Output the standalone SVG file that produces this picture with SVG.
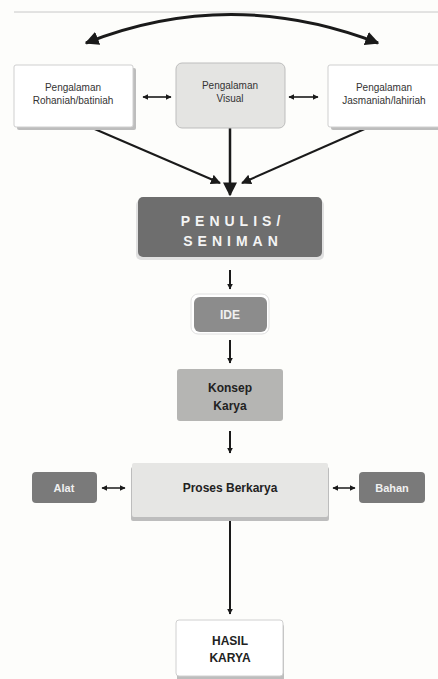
<svg xmlns="http://www.w3.org/2000/svg" width="438" height="679" viewBox="0 0 438 679">
<defs>
<marker id="ah" viewBox="0 0 10 10" refX="9" refY="5" markerWidth="10" markerHeight="10" markerUnits="userSpaceOnUse" orient="auto-start-reverse"><path d="M0,0 L10,5 L0,10 z" fill="#1a1a1a"/></marker>
<marker id="ahs" viewBox="0 0 10 10" refX="9" refY="5" markerWidth="6" markerHeight="6" markerUnits="userSpaceOnUse" orient="auto-start-reverse"><path d="M0,0 L10,5 L0,10 z" fill="#1a1a1a"/></marker>
<marker id="ahb" viewBox="0 0 10 10" refX="9" refY="5" markerWidth="14" markerHeight="14" markerUnits="userSpaceOnUse" orient="auto-start-reverse"><path d="M0,0 L10,5 L0,10 z" fill="#1a1a1a"/></marker>
</defs>
<style>
.t{font-family:"Liberation Sans",Arial,sans-serif;text-anchor:middle}
.s{font-size:10px;fill:#333}
.b{font-weight:bold}
.c{stroke:#1a1a1a;fill:none}
.sh{fill:#bdbdbd}
</style>
<rect width="438" height="679" fill="#fdfdfb"/>
<line x1="14" y1="12" x2="438" y2="12" stroke="#c8c8c8" stroke-width="1"/>
<g id="connectors">
<path class="c" d="M86,43 Q230,-14 378,43" stroke-width="3" marker-start="url(#ahb)" marker-end="url(#ahb)"/>
<line class="c" x1="143" y1="97" x2="171" y2="97" stroke-width="1.6" marker-start="url(#ahs)" marker-end="url(#ahs)"/>
<line class="c" x1="289" y1="97" x2="318" y2="97" stroke-width="1.6" marker-start="url(#ahs)" marker-end="url(#ahs)"/>
<line class="c" x1="83" y1="124" x2="220" y2="183" stroke-width="2" marker-end="url(#ah)"/>
<line class="c" x1="230" y1="124" x2="230" y2="195" stroke-width="2.5" marker-end="url(#ahb)"/>
<line class="c" x1="376" y1="124" x2="242" y2="183" stroke-width="2" marker-end="url(#ah)"/>
<line class="c" x1="230" y1="270" x2="230" y2="289" stroke-width="2" marker-end="url(#ahs)"/>
<line class="c" x1="230" y1="340" x2="230" y2="363" stroke-width="2" marker-end="url(#ahs)"/>
<line class="c" x1="230" y1="431" x2="230" y2="453" stroke-width="2" marker-end="url(#ahs)"/>
<line class="c" x1="102" y1="488" x2="125" y2="488" stroke-width="1.5" marker-start="url(#ahs)" marker-end="url(#ahs)"/>
<line class="c" x1="333" y1="488" x2="355" y2="488" stroke-width="1.5" marker-start="url(#ahs)" marker-end="url(#ahs)"/>
<line class="c" x1="230" y1="520" x2="230" y2="614" stroke-width="2" marker-end="url(#ahs)"/>
</g>
<g id="rohaniah">
<rect class="sh" x="17" y="68" width="119" height="62" rx="2"/>
<rect x="14" y="65" width="119" height="62" rx="2" fill="#ffffff" stroke="#cfcfcf"/>
<text class="t s" x="73" y="91">Pengalaman</text>
<text class="t s" x="73" y="104">Rohaniah/batiniah</text>
</g>
<g id="visual">
<rect x="176" y="63" width="109" height="65" rx="6" fill="#e4e4e2" stroke="#bdbdbd"/>
<text class="t s" x="230" y="89">Pengalaman</text>
<text class="t s" x="230" y="102">Visual</text>
</g>
<g id="jasmaniah">
<rect class="sh" x="331" y="68" width="110" height="62" rx="2"/>
<rect x="328" y="65" width="112" height="62" rx="2" fill="#ffffff" stroke="#cfcfcf"/>
<text class="t s" x="384" y="91">Pengalaman</text>
<text class="t s" x="384" y="104">Jasmaniah/lahiriah</text>
</g>
<g id="penulis">
<rect x="136" y="200" width="188" height="60" rx="5" fill="#e0e0e0"/>
<rect x="138" y="197" width="184" height="60" rx="5" fill="#6e6e6e"/>
<text class="t b" x="233" y="226" font-size="14" fill="#f4f4f4" letter-spacing="5">PENULIS/</text>
<text class="t b" x="233" y="246" font-size="14" fill="#f4f4f4" letter-spacing="5">SENIMAN</text>
</g>
<g id="ide">
<rect x="191" y="294" width="78" height="40" rx="7" fill="#ffffff" stroke="#e0e0e0"/>
<rect x="194" y="297" width="73" height="35" rx="6" fill="#8c8c8c"/>
<text class="t b" x="230" y="319" font-size="12" fill="#f0f0f0">IDE</text>
</g>
<g id="konsep">
<rect x="177" y="369" width="106" height="52" rx="3" fill="#b5b5b3"/>
<text class="t b" x="230" y="392" font-size="12" fill="#222">Konsep</text>
<text class="t b" x="230" y="410" font-size="12" fill="#222">Karya</text>
</g>
<g id="proses">
<rect class="sh" x="131" y="467" width="198" height="54" rx="2"/>
<rect x="132" y="463" width="196" height="54" rx="2" fill="#e6e6e4"/>
<text class="t b" x="230" y="492" font-size="12" fill="#222">Proses Berkarya</text>
</g>
<g id="alat">
<rect x="32" y="472" width="65" height="31" rx="4" fill="#7a7a7a"/>
<text class="t b" x="64" y="492" font-size="11" fill="#f0f0f0">Alat</text>
</g>
<g id="bahan">
<rect x="359" y="472" width="66" height="31" rx="4" fill="#7a7a7a"/>
<text class="t b" x="392" y="492" font-size="11" fill="#f0f0f0">Bahan</text>
</g>
<g id="hasil">
<rect class="sh" x="177" y="624" width="107" height="58" rx="3"/>
<rect x="176" y="620" width="107" height="56" rx="3" fill="#ffffff" stroke="#d0d0d0"/>
<text class="t b" x="230" y="645" font-size="12" fill="#222">HASIL</text>
<text class="t b" x="230" y="662" font-size="12" fill="#222">KARYA</text>
</g>
</svg>
